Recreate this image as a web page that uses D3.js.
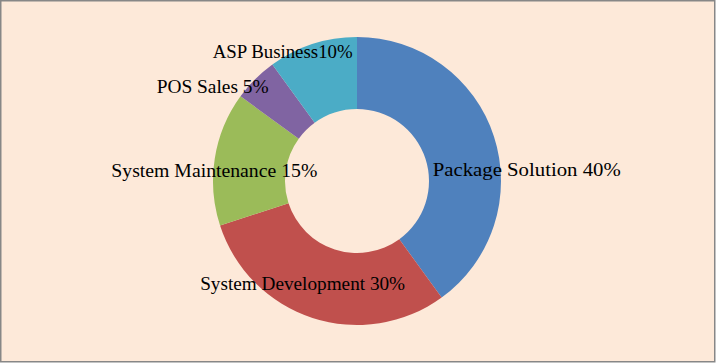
<!DOCTYPE html>
<html>
<head>
<meta charset="utf-8">
<script src="https://cdn.jsdelivr.net/npm/d3@7"></script>
<style>
  html, body { margin: 0; padding: 0; background: #fff; }
  svg { display: block; }
  .lbl { font-family: "Liberation Serif", "DejaVu Serif", serif; font-size: 19px; fill: #000; }
</style>
</head>
<body>
<svg id="chart" width="717" height="364"></svg>
<script>
// ---- data ----
const categories = ["Package Solution", "System Development", "System Maintenance", "POS Sales", "ASP Business"];
const shares = [40, 30, 15, 5, 10];
const labels = ["Package Solution 40%", "System Development 30%", "System Maintenance 15%", "POS Sales 5%", "ASP Business10%"];
const colors = ["#4f81bd", "#c0504d", "#9bbb59", "#8064a2", "#4bacc6"];

// label nudges from the slice centroid (dx, dy) and rendered text widths
const labelShift = [[67, 22], [-21, 0], [-36, 7], [-68, -18], [-41, -26]];
const labelWidth = [188, 205, 206, 112, 140];

const W = 717, H = 364;
const cx = 357, cy = 181, outerR = 144, innerR = 72;

const svg = d3.select("#chart");

// background + frame
svg.append("rect")
    .attr("x", 0.75).attr("y", 0.75)
    .attr("width", W - 3).attr("height", H - 3)
    .attr("fill", "#fde9d9")
    .attr("stroke", "#878787")
    .attr("stroke-width", 1.5);

const pie = d3.pie().sort(null).value(d => d);
const arc = d3.arc().innerRadius(innerR).outerRadius(outerR);
const mid = d3.arc().innerRadius(108).outerRadius(108);

const arcs = pie(shares);
const g = svg.append("g").attr("transform", `translate(${cx},${cy})`);

g.selectAll("path.slice")
    .data(arcs)
    .join("path")
    .classed("slice", true)
    .attr("d", arc)
    .attr("fill", (d, i) => colors[i]);

// labels sit on top of the ring, loosely near their slice
g.selectAll("text.lbl")
    .data(arcs)
    .join("text")
    .classed("lbl", true)
    .attr("text-anchor", "middle")
    .attr("x", (d, i) => mid.centroid(d)[0] + labelShift[i][0])
    .attr("y", (d, i) => mid.centroid(d)[1] + labelShift[i][1] + 6)
    .attr("textLength", (d, i) => labelWidth[i])
    .attr("lengthAdjust", "spacingAndGlyphs")
    .text((d, i) => labels[i]);
</script>
</body>
</html>
